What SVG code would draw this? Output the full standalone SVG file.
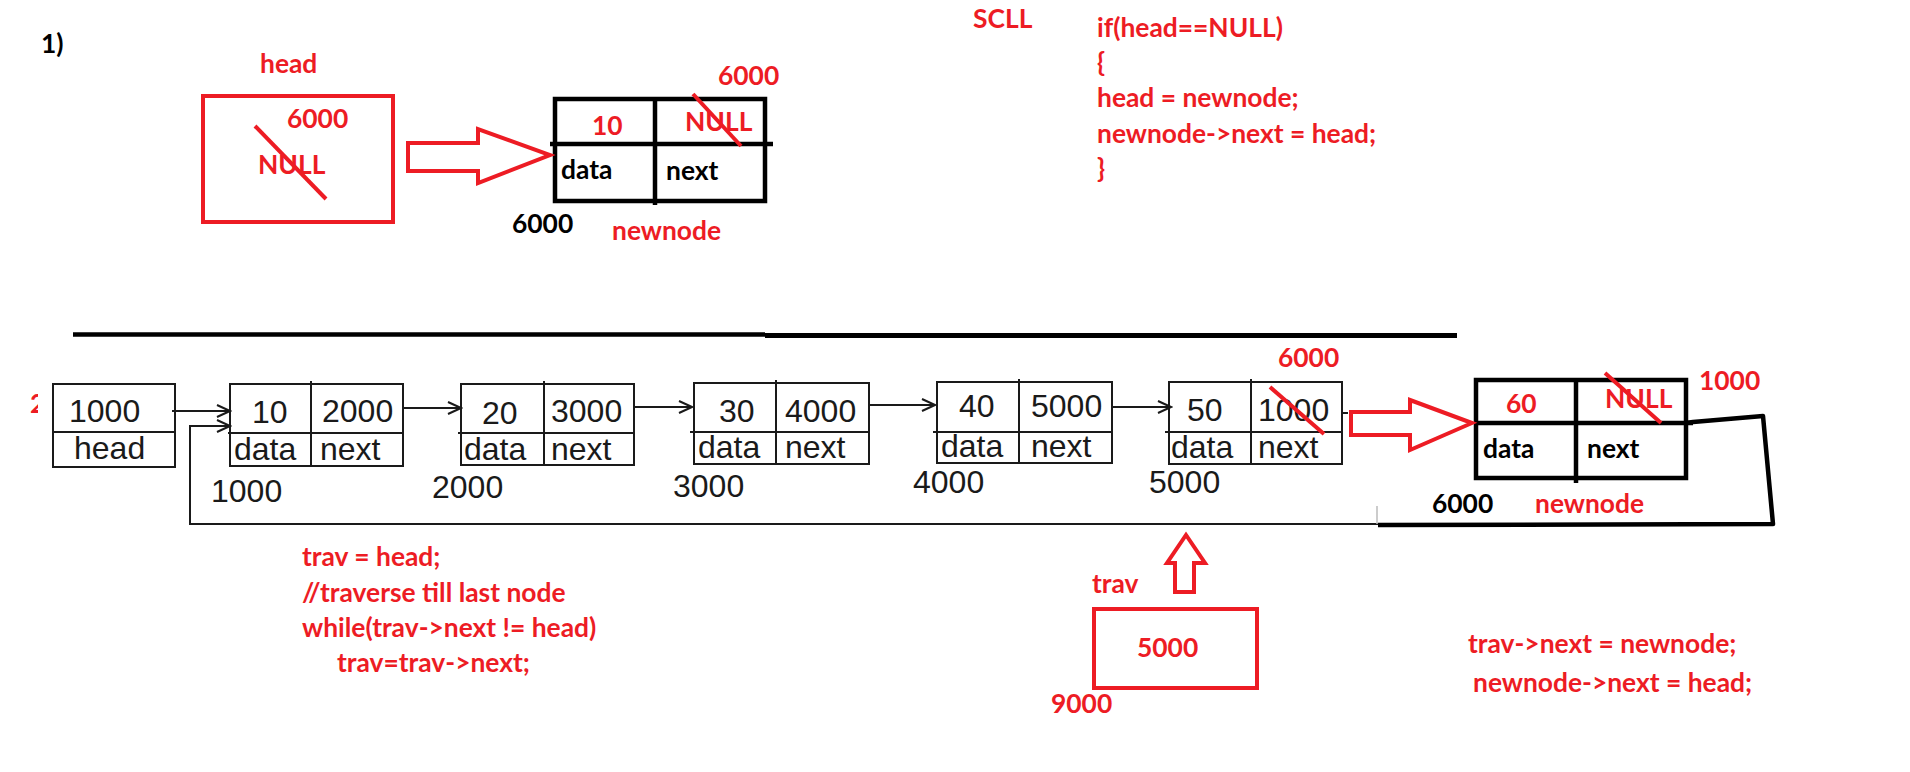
<svg xmlns="http://www.w3.org/2000/svg" width="1910" height="772" viewBox="0 0 1910 772">
<defs>
<style>
.r{fill:#ED1C24;font-family:Lato,"Liberation Sans",sans-serif;font-weight:700;font-size:26.4px}
.k{fill:#000;font-family:Lato,"Liberation Sans",sans-serif;font-weight:700;font-size:26.4px}
.n{fill:#1a1a1a;font-family:"Liberation Sans",sans-serif;font-size:32px}
.thin{fill:none;stroke:#1a1a1a;stroke-width:2}
.thick{fill:none;stroke:#000;stroke-width:4.5}
.rs{fill:none;stroke:#ED1C24;stroke-width:4}
.ha{fill:#fff;stroke:#ED1C24;stroke-width:4;stroke-linejoin:miter}
</style>
<marker id="ah" markerWidth="16" markerHeight="14" refX="14" refY="7" orient="auto" markerUnits="userSpaceOnUse">
<path d="M1,1 L14,7 L1,13" fill="none" stroke="#1a1a1a" stroke-width="2"/>
</marker>
<clipPath id="c2"><rect x="0" y="390" width="38" height="30"/></clipPath>
</defs>
<rect width="1910" height="772" fill="#fff"/>

<!-- top section -->
<text class="k" x="41" y="53">1)</text>

<g id="head-top">
<text class="r" x="260" y="73">head</text>
<rect x="203" y="96" width="190" height="126" class="rs" stroke-width="4.5"/>
<text class="r" x="287" y="128">6000</text>
<text class="r" x="258" y="174">NULL</text>
<line x1="255" y1="126" x2="326" y2="199" class="rs"/>
</g>

<g id="newnode-top">
<rect x="555" y="99" width="210" height="102" class="thick"/>
<line x1="550" y1="144" x2="773" y2="144" class="thick"/>
<line x1="655" y1="99" x2="655" y2="205" class="thick"/>
<text class="r" x="592" y="135">10</text>
<text class="r" x="685" y="131">NULL</text>
<line x1="693" y1="94" x2="741" y2="146" class="rs"/>
<text class="r" x="718" y="85">6000</text>
<text class="k" x="561" y="179">data</text>
<text class="k" x="666" y="180">next</text>
<text class="k" x="512" y="233">6000</text>
<text class="r" x="612" y="240">newnode</text>
</g>

<g id="code-top">
<text class="r" x="973" y="28">SCLL</text>
<text class="r" x="1097" y="37">if(head==NULL)</text>
<text class="r" x="1097" y="72">{</text>
<text class="r" x="1097" y="107">head = newnode;</text>
<text class="r" x="1097" y="143">newnode-&gt;next = head;</text>
<text class="r" x="1097" y="178">}</text>
</g>

<line x1="73" y1="334.5" x2="765" y2="334.5" stroke="#000" stroke-width="4.5"/>
<line x1="765" y1="335.5" x2="1457" y2="335.5" stroke="#000" stroke-width="5"/>

<!-- lower section -->
<text class="r" x="30" y="413" clip-path="url(#c2)">2</text>

<g id="head">
<rect x="53" y="384" width="122" height="83" class="thin" fill="#fff"/>
<line x1="53" y1="432" x2="175" y2="432" class="thin"/>
<text class="n" x="69" y="422">1000</text>
<text class="n" x="74" y="459">head</text>
</g>

<g id="node1">
<rect x="230" y="384" width="173" height="82" class="thin"/>
<line x1="228" y1="433" x2="403" y2="433" class="thin"/>
<line x1="311" y1="381" x2="311" y2="466" class="thin"/>
<text class="n" x="252" y="423">10</text>
<text class="n" x="322" y="422">2000</text>
<text class="n" x="234" y="460">data</text>
<text class="n" x="320" y="460">next</text>
<text class="n" x="211" y="502">1000</text>
</g>

<g id="node2">
<rect x="461" y="384" width="173" height="81" class="thin"/>
<line x1="458" y1="433" x2="634" y2="433" class="thin"/>
<line x1="544" y1="381" x2="544" y2="465" class="thin"/>
<text class="n" x="482" y="424">20</text>
<text class="n" x="551" y="422">3000</text>
<text class="n" x="464" y="460">data</text>
<text class="n" x="551" y="460">next</text>
<text class="n" x="432" y="498">2000</text>
</g>

<g id="node3">
<rect x="694" y="383" width="175" height="81" class="thin"/>
<line x1="690" y1="432" x2="869" y2="432" class="thin"/>
<line x1="776" y1="380" x2="776" y2="464" class="thin"/>
<text class="n" x="719" y="422">30</text>
<text class="n" x="785" y="422">4000</text>
<text class="n" x="698" y="458">data</text>
<text class="n" x="785" y="458">next</text>
<text class="n" x="673" y="497">3000</text>
</g>

<g id="node4">
<rect x="937" y="382" width="175" height="81" class="thin"/>
<line x1="933" y1="432" x2="1112" y2="432" class="thin"/>
<line x1="1019" y1="379" x2="1019" y2="463" class="thin"/>
<text class="n" x="959" y="417">40</text>
<text class="n" x="1031" y="417">5000</text>
<text class="n" x="941" y="457">data</text>
<text class="n" x="1031" y="457">next</text>
<text class="n" x="913" y="493">4000</text>
</g>

<g id="node5">
<rect x="1169" y="382" width="173" height="82" class="thin"/>
<line x1="1165" y1="432" x2="1342" y2="432" class="thin"/>
<line x1="1251" y1="379" x2="1251" y2="464" class="thin"/>
<text class="n" x="1187" y="421">50</text>
<text class="n" x="1258" y="421">1000</text>
<line x1="1270" y1="387" x2="1324" y2="434" class="rs"/>
<text class="n" x="1171" y="458">data</text>
<text class="n" x="1258" y="458">next</text>
<text class="n" x="1149" y="493">5000</text>
<text class="r" x="1278" y="367">6000</text>
</g>

<g id="newnode">
<rect x="1476" y="380" width="210" height="98" class="thick"/>
<line x1="1476" y1="423" x2="1693" y2="423" class="thick"/>
<line x1="1576" y1="380" x2="1576" y2="483" class="thick"/>
<text class="r" x="1506" y="413">60</text>
<text class="r" x="1605" y="408">NULL</text>
<line x1="1605" y1="373" x2="1661" y2="423" class="rs"/>
<text class="r" x="1699" y="390">1000</text>
<text class="k" x="1483" y="458">data</text>
<text class="k" x="1587" y="458">next</text>
<text class="k" x="1432" y="513">6000</text>
<text class="r" x="1535" y="513">newnode</text>
</g>

<g id="trav">
<text class="r" x="1092" y="593">trav</text>
<rect x="1094" y="609" width="163" height="79" class="rs" stroke-width="4.5"/>
<text class="r" x="1137" y="657">5000</text>
<text class="r" x="1051" y="713">9000</text>
</g>

<g id="code-bottom">
<text class="r" x="302" y="566">trav = head;</text>
<text class="r" x="302" y="602">//traverse till last node</text>
<text class="r" x="302" y="637">while(trav-&gt;next != head)</text>
<text class="r" x="337" y="672">trav=trav-&gt;next;</text>
<text class="r" x="1468" y="653">trav-&gt;next = newnode;</text>
<text class="r" x="1473" y="692">newnode-&gt;next = head;</text>
</g>

<g id="connectors">
<line x1="172" y1="411" x2="230" y2="411" class="thin" marker-end="url(#ah)"/>
<path d="M1378,524 L190,524 L190,426 L230,426" class="thin" marker-end="url(#ah)"/>
<line x1="403" y1="408" x2="461" y2="408" class="thin" marker-end="url(#ah)"/>
<line x1="634" y1="407" x2="692" y2="407" class="thin" marker-end="url(#ah)"/>
<line x1="869" y1="405" x2="935" y2="405" class="thin" marker-end="url(#ah)"/>
<line x1="1112" y1="407" x2="1171" y2="407" class="thin" marker-end="url(#ah)"/>
<line x1="1342" y1="413" x2="1348" y2="413" class="thin"/>
<line x1="1377" y1="506" x2="1377" y2="524" stroke="#bbb" stroke-width="1.5"/>
<path d="M1686,423 L1693,422 L1763,416 L1773,524 L1378,525" class="thick" stroke-linejoin="round"/>
<path d="M408,143 L478,143 L478,129 L550,155 L478,183 L478,171 L408,171 Z" class="ha"/>
<path d="M1351,412 L1410,412 L1410,400 L1472,423 L1410,450 L1410,435 L1351,435 Z" class="ha"/>
<path d="M1175,592 L1175,563 L1167,563 L1186,535 L1205,563 L1194,563 L1194,592 Z" class="ha"/>
</g>
</svg>
